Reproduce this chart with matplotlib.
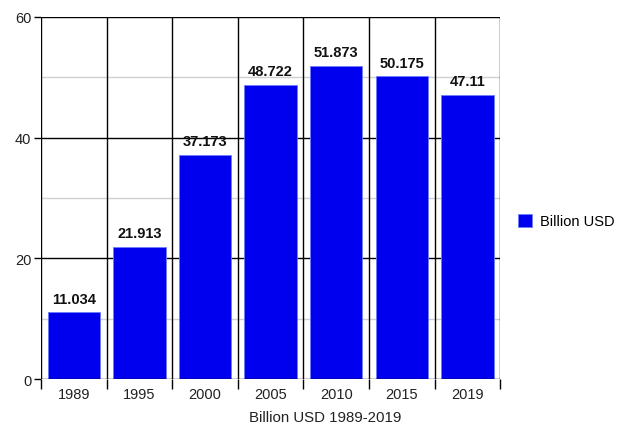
import matplotlib.pyplot as plt
import numpy as np

years = ["1989", "1995", "2000", "2005", "2010", "2015", "2019"]
billion_usd = [11.034, 21.913, 37.173, 48.722, 51.873, 50.175, 47.11]
value_labels = ["11.034", "21.913", "37.173", "48.722", "51.873", "50.175", "47.11"]

plt.rcParams["font.family"] = ["Liberation Sans", "DejaVu Sans"]

fig = plt.figure(figsize=(6.23, 4.27), dpi=100)
ax = fig.add_axes([0.0658, 0.110, 0.737, 0.848])

x = np.arange(len(years))
bars = ax.bar(x, billion_usd, width=0.8, color="#0000ee", edgecolor="#6f7cff",
              linewidth=0.6, zorder=3, label="Billion USD")

for xi, v, txt in zip(x, billion_usd, value_labels):
    ax.text(xi, v + 1.1, txt, ha="center", va="bottom", fontsize=10.5,
            fontweight="bold", color="#111111", zorder=4)

ax.set_xlim(-0.5, len(years) - 0.5)
ax.set_ylim(0, 60)

# light lines at 10, 30, 50; black lines at 20, 40, 60
for yv in [10, 30, 50]:
    ax.axhline(yv, color="#d0d0d0", linewidth=1.0, zorder=1)
for yv in [20, 40, 60]:
    ax.axhline(yv, color="black", linewidth=1.0, zorder=2)

# category boundaries
for b in np.arange(-0.5, len(years), 1.0):
    ax.axvline(b, color="black", linewidth=1.0, zorder=2)

for s in ax.spines.values():
    s.set_visible(False)
ax.axhline(0, color="black", linewidth=1.0, zorder=5)

ax.set_yticks([0, 20, 40, 60])
ax.set_yticklabels(["0", "20", "40", "60"])
ax.set_xticks(x)
ax.set_xticklabels(years)
ax.set_xticks(np.arange(-0.5, len(years), 1.0), minor=True)
ax.tick_params(axis="x", which="major", length=0, pad=6, labelsize=10.5,
               labelcolor="#222222")
ax.tick_params(axis="x", which="minor", length=7, width=1.0, color="black")
ax.tick_params(axis="y", length=5, width=1.0, pad=2, labelsize=10.5,
               labelcolor="#222222")

ax.set_xlabel("Billion USD 1989-2019", fontsize=10.8, color="#222222")
ax.xaxis.set_label_coords(0.619, -0.085)

fig.legend(handles=[bars], labels=["Billion USD"], loc="center left",
           bbox_to_anchor=(0.81, 0.48), frameon=False, fontsize=10.5,
           handlelength=1.0, handleheight=1.0, handletextpad=0.5)

fig.savefig("out.png", dpi=100)
